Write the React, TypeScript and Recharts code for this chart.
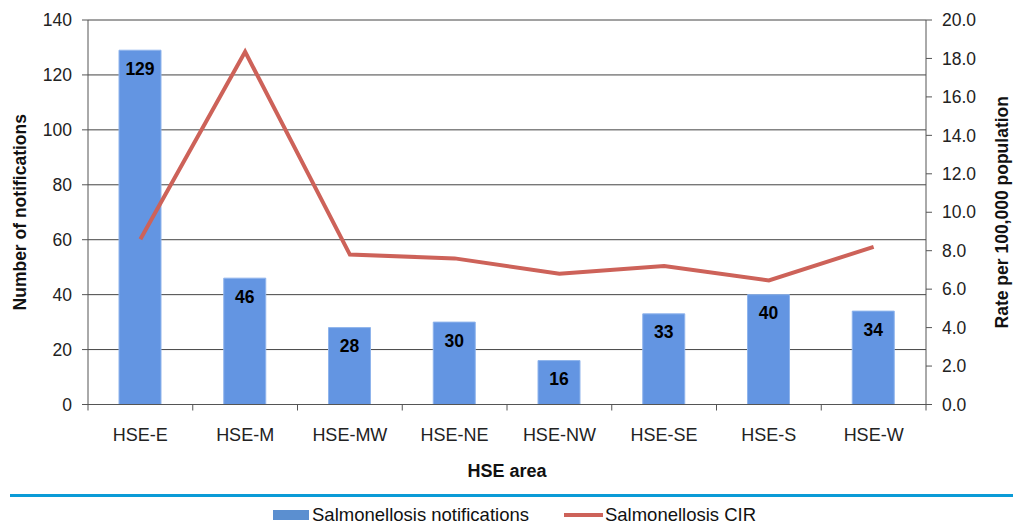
import React from 'react';
import {
  ComposedChart,
  Bar,
  Line,
  XAxis,
  YAxis,
  CartesianGrid,
  Legend,
  LabelList,
} from 'recharts';

const areas = ['HSE-E', 'HSE-M', 'HSE-MW', 'HSE-NE', 'HSE-NW', 'HSE-SE', 'HSE-S', 'HSE-W'];
const notifications = [129, 46, 28, 30, 16, 33, 40, 34];
const cir = [8.6, 18.35, 7.8, 7.6, 6.8, 7.2, 6.45, 8.2];
const leftTicks = [0, 20, 40, 60, 80, 100, 120, 140];
const rightTicks = [0, 2, 4, 6, 8, 10, 12, 14, 16, 18, 20];

const data = areas.map((area, i) => ({
  area,
  notifications: notifications[i],
  cir: cir[i],
}));

const W = 1013;
const H = 526;
const FONT = '"Liberation Sans", Arial, sans-serif';
const BAR_COLOR = '#6395e2';
const LINE_COLOR = '#cd6259';
const PLOT_LEFT = 88;
const PLOT_RIGHT = 926;
const HALF_STEP = (PLOT_RIGHT - PLOT_LEFT) / areas.length / 2;

// x ticks sit between categories, like the original spreadsheet chart
const AreaTick = ({ x, y, payload, index }: any) => (
  <g>
    <line x1={x - HALF_STEP} x2={x - HALF_STEP} y1={y} y2={y + 6} stroke="#555" />
    {index === areas.length - 1 && (
      <line x1={x + HALF_STEP} x2={x + HALF_STEP} y1={y} y2={y + 6} stroke="#555" />
    )}
    <text x={x} y={y + 36} textAnchor="middle" fontSize={18} fill="#222" fontFamily={FONT}>
      {payload.value}
    </text>
  </g>
);

const LegendContent = () => (
  <div style={{ width: W, fontFamily: FONT }}>
    <div style={{ marginLeft: 10, height: 3, background: '#0a9bd7' }} />
    <div
      style={{
        display: 'flex',
        alignItems: 'center',
        paddingLeft: 273,
        marginTop: 9,
        fontSize: 18.5,
        lineHeight: 1,
        color: '#111',
      }}
    >
      <span style={{ width: 36, height: 10, background: '#5b8fd0', marginRight: 3 }} />
      <span>Salmonellosis notifications</span>
      <span style={{ width: 39, height: 4, background: LINE_COLOR, marginLeft: 35, marginRight: 2 }} />
      <span>Salmonellosis CIR</span>
    </div>
  </div>
);

export default function App() {
  return (
    <div style={{ position: 'absolute', left: 0, top: 0, width: W, height: H, background: '#fff' }}>
      <ComposedChart
        width={W}
        height={H}
        data={data}
        margin={{ top: 20, right: 27, left: 28, bottom: 51 }}
        style={{ fontFamily: FONT }}
      >
        <CartesianGrid vertical={false} stroke="#444" yAxisId="left" />
        <XAxis
          dataKey="area"
          height={40}
          tickLine={false}
          tickSize={0}
          tickMargin={0}
          interval={0}
          tick={<AreaTick />}
          axisLine={{ stroke: '#555' }}
          label={{
            value: 'HSE area',
            position: 'insideBottom',
            offset: -32,
            fontSize: 18,
            fontWeight: 'bold',
            fill: '#111',
          }}
        />
        <YAxis
          yAxisId="left"
          width={60}
          domain={[0, 140]}
          ticks={leftTicks}
          tickSize={6}
          tickMargin={10}
          tick={{ fontSize: 17.5, fill: '#222' }}
          axisLine={{ stroke: '#555' }}
          tickLine={{ stroke: '#555' }}
          label={{
            value: 'Number of notifications',
            angle: -90,
            position: 'insideLeft',
            offset: -8,
            style: { textAnchor: 'middle' },
            fontSize: 17.5,
            fontWeight: 'bold',
            fill: '#111',
          }}
        />
        <YAxis
          yAxisId="right"
          orientation="right"
          width={60}
          domain={[0, 20]}
          ticks={rightTicks}
          tickSize={6}
          tickMargin={10}
          tickFormatter={(v: number) => v.toFixed(1)}
          tick={{ fontSize: 17.5, fill: '#222', textAnchor: 'start' }}
          axisLine={{ stroke: '#555' }}
          tickLine={{ stroke: '#555' }}
          label={{
            value: 'Rate per 100,000 population',
            angle: -90,
            position: 'insideRight',
            offset: -16,
            style: { textAnchor: 'middle' },
            fontSize: 17.5,
            fontWeight: 'bold',
            fill: '#111',
          }}
        />
        <Bar
          yAxisId="left"
          dataKey="notifications"
          name="Salmonellosis notifications"
          fill={BAR_COLOR}
          stroke="#8fb4ec"
          strokeWidth={1}
          barSize={42}
          isAnimationActive={false}
        >
          <LabelList
            dataKey="notifications"
            position="insideTop"
            offset={12}
            fontSize={17.5}
            fontWeight="bold"
            fill="#000"
          />
        </Bar>
        <Line
          yAxisId="right"
          dataKey="cir"
          name="Salmonellosis CIR"
          type="linear"
          stroke={LINE_COLOR}
          strokeWidth={4}
          dot={false}
          activeDot={false}
          isAnimationActive={false}
        />
        <Legend
          content={<LegendContent />}
          wrapperStyle={{ position: 'absolute', left: 0, top: 494, width: W }}
        />
      </ComposedChart>
    </div>
  );
}
